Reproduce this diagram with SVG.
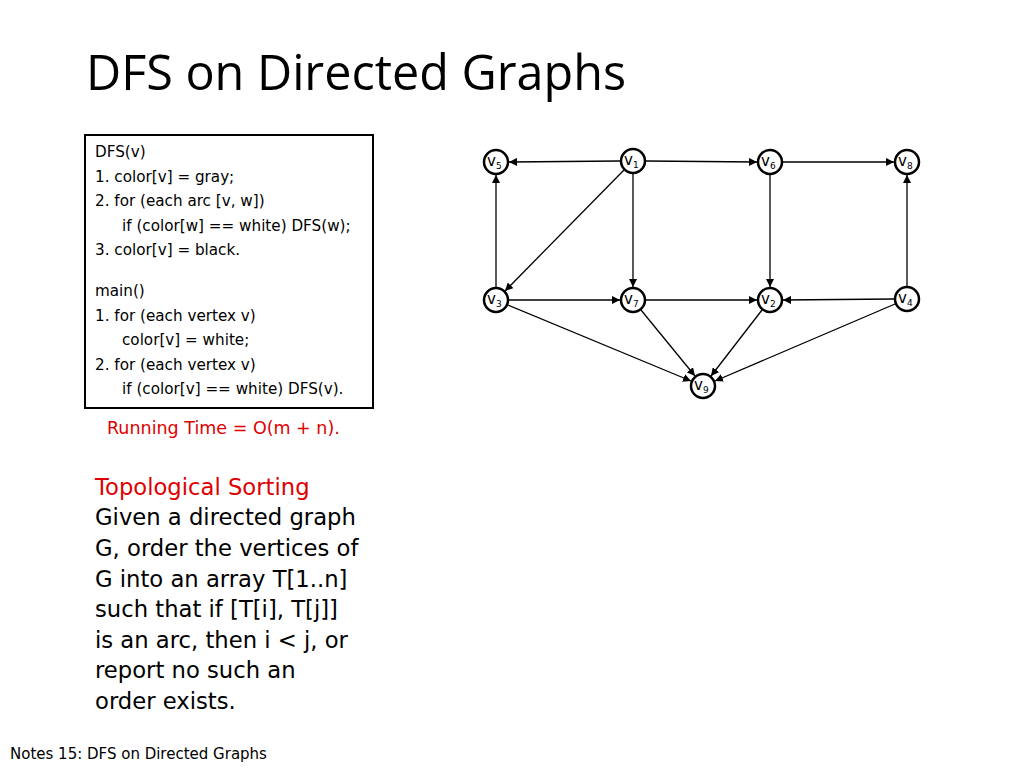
<svg xmlns="http://www.w3.org/2000/svg" width="1024" height="768" viewBox="0 0 1024 768">
<style>
text{font-family:"DejaVu Sans","Liberation Sans",sans-serif}
.code{font-size:15.2px;fill:#000}
.node circle{fill:#fff;stroke:#000;stroke-width:2.5}
.node text{font-size:15px}
.e line{stroke:#000;stroke-width:1.3;marker-end:url(#a)}
</style>
<defs><marker id="a" viewBox="0 0 10 10" refX="10" refY="5" markerWidth="8" markerHeight="8" markerUnits="userSpaceOnUse" orient="auto"><path d="M0,0L10,5L0,10z"/></marker></defs>
<rect width="1024" height="768" fill="#fff"/>
<text x="86" y="90" font-size="48.5" font-weight="500" style="font-family:'Open Sans','DejaVu Sans',sans-serif">DFS on Directed Graphs</text>
<g id="code">
<rect x="85" y="135" width="288" height="273" fill="#fff" stroke="#000" stroke-width="2"/>
<text class="code" x="95" y="157">DFS(v)</text>
<text class="code" x="95" y="182">1. color[v] = gray;</text>
<text class="code" x="95" y="206">2. for (each arc [v, w])</text>
<text class="code" x="122" y="231">if (color[w] == white) DFS(w);</text>
<text class="code" x="95" y="255">3. color[v] = black.</text>
<text class="code" x="95" y="296">main()</text>
<text class="code" x="95" y="321">1. for (each vertex v)</text>
<text class="code" x="122" y="345">color[v] = white;</text>
<text class="code" x="95" y="370">2. for (each vertex v)</text>
<text class="code" x="122" y="394">if (color[v] == white) DFS(v).</text>
</g>
<text x="107" y="434" font-size="17.5" fill="#e00000">Running Time = O(m + n).</text>
<g id="topo">
<text x="95" y="495" fill="#e00000" style="font-size:22.7px">Topological Sorting</text>
<text x="95" y="525" style="font-size:22.7px">Given a directed graph</text>
<text x="95" y="556" style="font-size:22.7px">G, order the vertices of</text>
<text x="95" y="587" style="font-size:22.7px">G into an array T[1..n]</text>
<text x="95" y="617" style="font-size:22.7px">such that if [T[i], T[j]]</text>
<text x="95" y="648" style="font-size:22.7px">is an arc, then i &lt; j, or</text>
<text x="95" y="678" style="font-size:22.7px">report no such an</text>
<text x="95" y="709" style="font-size:22.7px">order exists.</text>
</g>
<text x="10" y="759" font-size="15">Notes 15: DFS on Directed Graphs</text>
<g id="edges" class="e">
<line x1="620" y1="161" x2="509" y2="162"/>
<line x1="646" y1="161" x2="757" y2="162"/>
<line x1="783" y1="162" x2="894" y2="162"/>
<line x1="624" y1="170" x2="505" y2="291"/>
<line x1="633" y1="174" x2="633" y2="287"/>
<line x1="770" y1="175" x2="770" y2="287"/>
<line x1="496" y1="287" x2="496" y2="175"/>
<line x1="907" y1="286" x2="907" y2="175"/>
<line x1="509" y1="300" x2="620" y2="300"/>
<line x1="646" y1="300" x2="757" y2="300"/>
<line x1="894" y1="299" x2="783" y2="300"/>
<line x1="508" y1="305" x2="691" y2="381"/>
<line x1="641" y1="310" x2="695" y2="376"/>
<line x1="762" y1="310" x2="711" y2="376"/>
<line x1="895" y1="304" x2="715" y2="381"/>
</g>
<g id="v5" class="node"><circle cx="496" cy="162" r="12"/><text x="487" y="166">v<tspan font-size="9" dy="3">5</tspan></text></g>
<g id="v1" class="node"><circle cx="633" cy="161" r="12"/><text x="624" y="165">v<tspan font-size="9" dy="3">1</tspan></text></g>
<g id="v6" class="node"><circle cx="770" cy="162" r="12"/><text x="761" y="166">v<tspan font-size="9" dy="3">6</tspan></text></g>
<g id="v8" class="node"><circle cx="907" cy="162" r="12"/><text x="898" y="166">v<tspan font-size="9" dy="3">8</tspan></text></g>
<g id="v3" class="node"><circle cx="496" cy="300" r="12"/><text x="487" y="304">v<tspan font-size="9" dy="3">3</tspan></text></g>
<g id="v7" class="node"><circle cx="633" cy="300" r="12"/><text x="624" y="304">v<tspan font-size="9" dy="3">7</tspan></text></g>
<g id="v2" class="node"><circle cx="770" cy="300" r="12"/><text x="761" y="304">v<tspan font-size="9" dy="3">2</tspan></text></g>
<g id="v4" class="node"><circle cx="907" cy="299" r="12"/><text x="898" y="303">v<tspan font-size="9" dy="3">4</tspan></text></g>
<g id="v9" class="node"><circle cx="703" cy="386" r="12"/><text x="694" y="390">v<tspan font-size="9" dy="3">9</tspan></text></g>
</svg>
